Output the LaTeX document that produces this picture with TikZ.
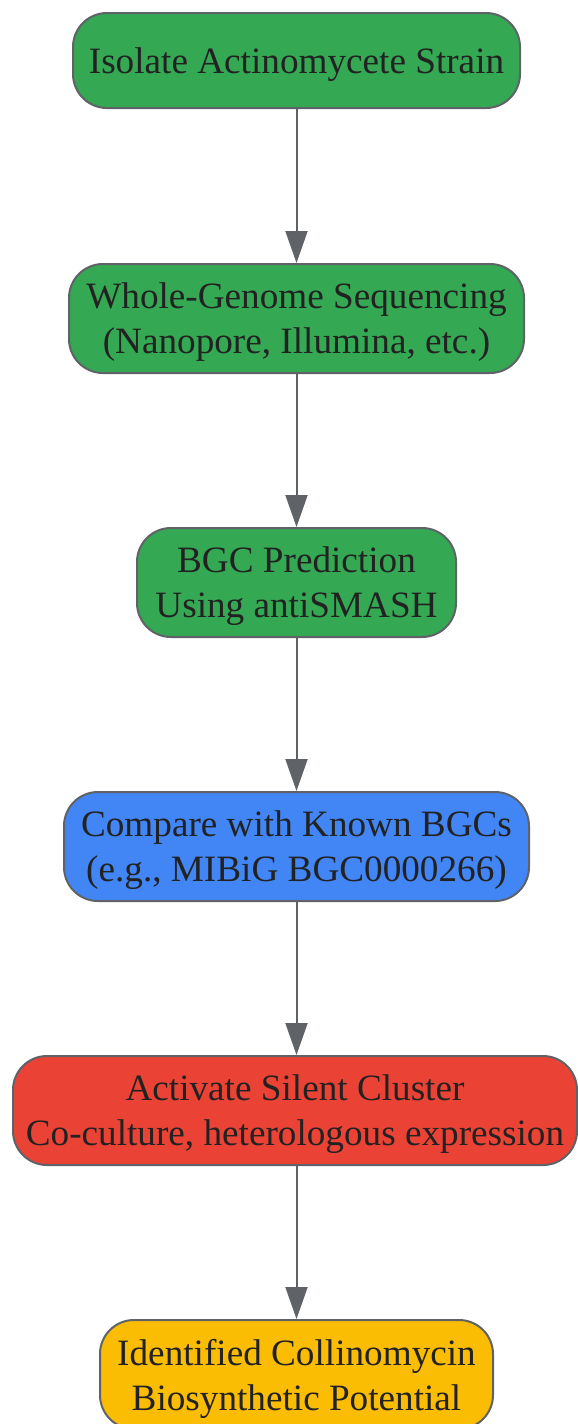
\documentclass[tikz,border=0pt]{standalone}
\usepackage{fontspec}
\setmainfont{Liberation Serif}
\usetikzlibrary{arrows.meta}
\definecolor{gBorder}{HTML}{5F6368}
\definecolor{gGreen}{HTML}{34A853}
\definecolor{gBlue}{HTML}{4285F4}
\definecolor{gRed}{HTML}{EA4335}
\definecolor{gYellow}{HTML}{FBBC04}
\definecolor{txt}{HTML}{222222}
\begin{document}
\begin{tikzpicture}[x=1pt,y=1pt,
  box/.style={draw=gBorder, line width=2pt, rounded corners=34pt, inner sep=0pt, align=center, text=txt, text depth=-2pt, font=\fontsize{37.2}{45}\selectfont},
  flow/.style={draw=gBorder, line width=2pt, -{Triangle[length=32pt,width=22pt]}}]
\useasboundingbox[fill=white] (0,0) rectangle (578,-1424);
\node[box, fill=gGreen, minimum width=447pt, minimum height=95pt] (n1) at (296.5,-60.5) {Isolate Actinomycete Strain};
\node[box, fill=gGreen, minimum width=455pt, minimum height=109pt] (n2) at (296.5,-318.5) {Whole-Genome Sequencing\\(Nanopore, Illumina, etc.)};
\node[box, fill=gGreen, minimum width=319pt, minimum height=109pt] (n3) at (296.5,-582.5) {BGC Prediction\\Using antiSMASH};
\node[box, fill=gBlue, minimum width=465pt, minimum height=109pt] (n4) at (296.5,-846.5) {Compare with Known BGCs\\(e.g., MIBiG BGC0000266)};
\node[box, fill=gRed, minimum width=564pt, minimum height=109pt] (n5) at (295,-1110.5) {Activate Silent Cluster\\Co-culture, heterologous expression};
\node[box, fill=gYellow, minimum width=393pt, minimum height=109pt] (n6) at (296.5,-1374.5) {Identified Collinomycin\\Biosynthetic Potential};
\draw[flow] (n1.south) -- (n2.north);
\draw[flow] (n2.south) -- (n3.north);
\draw[flow] (n3.south) -- (n4.north);
\draw[flow] (n4.south) -- (n4.south |- n5.north);
\draw[flow] (n5.south -| n6.north) -- (n6.north);
\end{tikzpicture}
\end{document}
